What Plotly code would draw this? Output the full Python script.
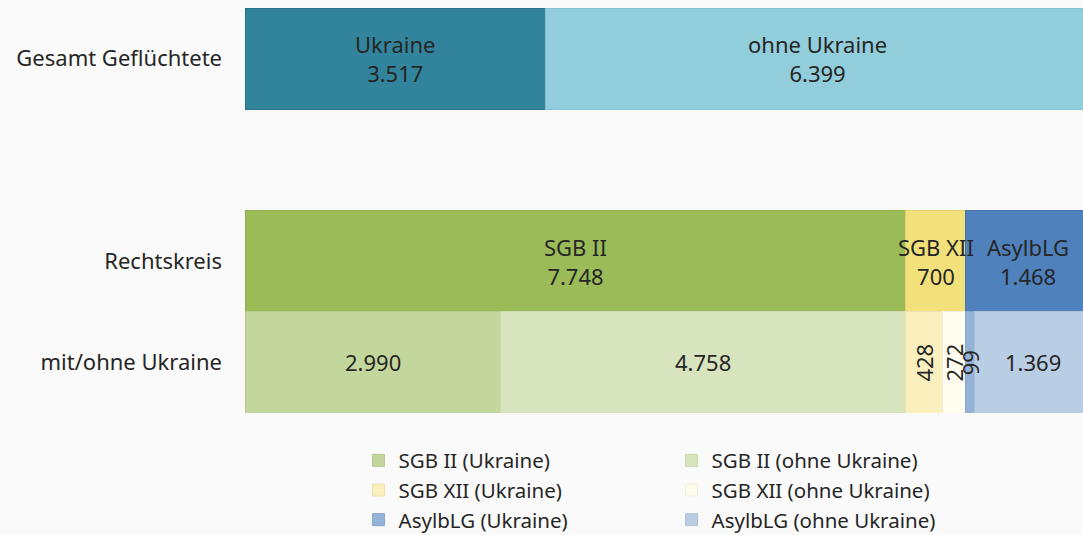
import plotly.graph_objects as go

# ---- data ----
row_labels = ["Gesamt Geflüchtete", "Rechtskreis", "mit/ohne Ukraine"]
row_pos = [0, 2, 3]

top_names = ["Ukraine", "ohne Ukraine"]
top_values = [3517, 6399]

mid_names = ["SGB II", "SGB XII", "AsylbLG"]
mid_values = [7748, 700, 1468]

bot_names = ["SGB II (Ukraine)", "SGB II (ohne Ukraine)",
             "SGB XII (Ukraine)", "SGB XII (ohne Ukraine)",
             "AsylbLG (Ukraine)", "AsylbLG (ohne Ukraine)"]
bot_values = [2990, 4758, 428, 272, 99, 1369]

x_max = 9823  # visible axis end (bars run slightly past the right edge)

# ---- styles ----
top_colors = ["#31849b", "#92cddc"]
top_lines = ["#2b7589", "#86c1d0"]
mid_colors = ["#9bbb59", "#f2e07a", "#4f81bd"]
mid_lines = ["#8fae4f", "#e3d06c", "#4776ad"]
bot_colors = ["#c3d69b", "#d8e4bd", "#faf0bd", "#fefcee", "#95b3d7", "#b9cde5"]
bot_lines = ["#b6ca8c", "#cbd9ad", "#ede2ac", "#f1eedb", "#88a6cb", "#acc0d8"]
bot_angles = [0, 0, -90, -90, -90, 0]

TXT = "#262626"
FONT = "Noto Sans, Open Sans, sans-serif"
LABEL_SIZE = 22


def fmt(v):
    return f"{v:,}".replace(",", ".")


fig = go.Figure()
annotations = []


def add_row(names, values, colors, lines, ypos, labels, angles, legend):
    start = 0
    for name, v, c, lc, lab, ang in zip(names, values, colors, lines, labels, angles):
        fig.add_trace(go.Bar(
            y=[ypos], x=[v], orientation="h", name=name,
            marker=dict(color=c, line=dict(color=lc, width=1)),
            textposition="none", showlegend=legend, width=1,
            hovertemplate=f"{name}: {fmt(v)}<extra></extra>",
        ))
        annotations.append(dict(
            x=start + v / 2, y=ypos, xref="x", yref="y", text=lab,
            showarrow=False, textangle=ang,
            font=dict(size=LABEL_SIZE, color=TXT, family=FONT),
        ))
        start += v


add_row(top_names, top_values, top_colors, top_lines, row_pos[0],
        [f"{n}<br>{fmt(v)}" for n, v in zip(top_names, top_values)],
        [0] * len(top_values), False)
add_row(mid_names, mid_values, mid_colors, mid_lines, row_pos[1],
        [f"{n}<br>{fmt(v)}" for n, v in zip(mid_names, mid_values)],
        [0] * len(mid_values), False)
add_row(bot_names, bot_values, bot_colors, bot_lines, row_pos[2],
        [fmt(v) for v in bot_values], bot_angles, True)

fig.update_layout(
    barmode="stack",
    width=1083, height=535,
    margin=dict(l=245, r=0, t=8, b=122, autoexpand=False),
    paper_bgcolor="#fafafa", plot_bgcolor="#fafafa",
    font=dict(family=FONT, color=TXT, size=LABEL_SIZE),
    xaxis=dict(range=[0, x_max], visible=False, fixedrange=True),
    yaxis=dict(range=[3.5, -0.5], tickvals=row_pos, ticktext=row_labels,
               showgrid=False, zeroline=False, showline=False, fixedrange=True,
               ticklabelstandoff=22, tickfont=dict(size=LABEL_SIZE, color=TXT)),
    legend=dict(orientation="h", x=0.1355, xanchor="left", y=-0.068, yanchor="top",
                entrywidth=268, entrywidthmode="pixels", traceorder="normal",
                font=dict(size=20.5, color=TXT), bgcolor="rgba(0,0,0,0)",
                itemwidth=30, tracegroupgap=0),
    annotations=annotations,
)

fig.write_html("out.html", config={"displayModeBar": False},
               post_script="document.body.style.margin='0';")
